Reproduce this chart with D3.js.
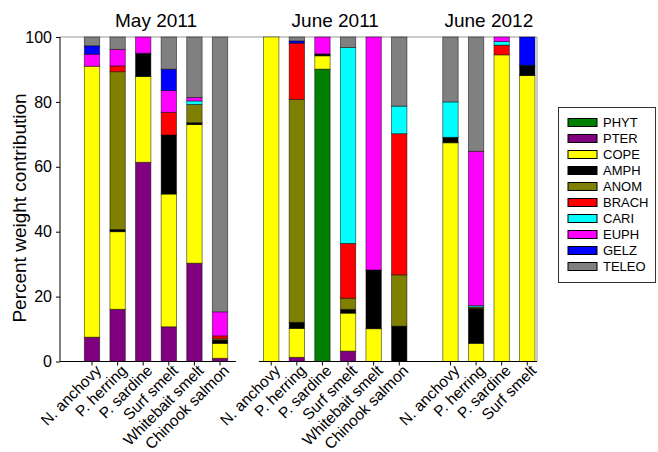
<!DOCTYPE html>
<html lang="en">
<head>
  <meta charset="UTF-8">
  <title>Percent weight contribution</title>
  <style>
    body { margin: 0; background: #fff; }
    svg { font-family: "Liberation Sans", Arial, Helvetica, sans-serif; }
  </style>
  <script src="https://d3js.org/d3.v7.min.js"></script>
</head>
<body>
  <svg id="chart" width="658" height="452"></svg>
  <script>
    // bars, left to right
    const periods = ['May 2011', 'June 2011', 'June 2012'];
    const fishMay11 = ['N. anchovy', 'P. herring', 'P. sardine', 'Surf smelt', 'Whitebait smelt', 'Chinook salmon'];
    const fishJun11 = ['N. anchovy', 'P. herring', 'P. sardine', 'Surf smelt', 'Whitebait smelt', 'Chinook salmon'];
    const fishJun12 = ['N. anchovy', 'P. herring', 'P. sardine', 'Surf smelt'];

    const prey = ['PHYT', 'PTER', 'COPE', 'AMPH', 'ANOM', 'BRACH', 'CARI', 'EUPH', 'GELZ', 'TELEO'];
    const preyColors = ['#008000', '#800080', '#ffff00', '#000000', '#808000', '#ff0000', '#00ffff', '#ff00ff', '#0000ff', '#808080'];

    // percent per bar: May 2011 (6), June 2011 (6), June 2012 (4)
    const PHYT  = [0, 0, 0, 0, 0, 0,           0, 0, 90.1, 0, 0, 0,         0, 0, 0, 0];
    const PTER  = [7.5, 16.1, 61.4, 10.7, 30.3, 1.0,  0, 1.3, 0, 3.2, 0, 0,   0, 0, 0, 0];
    const COPE  = [83.5, 23.9, 26.4, 40.9, 42.7, 4.6, 100, 8.9, 4.1, 11.7, 10.1, 0, 67.4, 5.6, 94.5, 88.1];
    const AMPH  = [0, 0.7, 7.2, 18.2, 0.6, 1.0,  0, 1.9, 0.6, 1.2, 18.1, 10.9, 1.7, 10.8, 0, 3.2];
    const ANOM  = [0, 48.6, 0, 0, 5.6, 0.4,      0, 68.7, 0, 3.4, 0, 15.8,    0, 0.4, 0, 0];
    const BRACH = [0, 1.8, 0, 7.0, 0, 0.9,       0, 17.3, 0, 16.9, 0, 43.5,   0, 0, 3.0, 0];
    const CARI  = [0, 0, 0, 0, 1.1, 0,           0, 0, 0, 60.4, 0, 8.5,       10.9, 0.4, 1.1, 0];
    const EUPH  = [3.7, 5.1, 5.0, 6.7, 1.1, 7.4, 0, 0, 5.2, 0, 71.8, 0,       0, 47.6, 1.4, 0];
    const GELZ  = [2.6, 0, 0, 6.6, 0, 0,         0, 0.7, 0, 0, 0, 0,          0, 0, 0, 8.7];
    const TELEO = [2.7, 3.8, 0, 9.9, 18.6, 84.7, 0, 1.2, 0, 3.2, 0, 21.3,     20, 35.2, 0, 0];

    const yTicks = [0, 20, 40, 60, 80, 100];

    const seriesVals = [PHYT, PTER, COPE, AMPH, ANOM, BRACH, CARI, EUPH, GELZ, TELEO];

    // one slot per bar, an empty slot between periods
    const bars = [];
    [fishMay11, fishJun11, fishJun12].forEach((list, g) => {
      const start = [1, 8, 15][g];
      list.forEach((name, i) => bars.push({ name: name, pos: start + i, group: g }));
    });
    bars.forEach((b, i) => {
      prey.forEach((p, k) => { b[p] = seriesVals[k][i]; });
    });

    const svg = d3.select('#chart');
    const plotL = 60, plotR = 537, plotT = 37, plotB = 361.5;

    const x = d3.scaleLinear().domain([-0.25, 18.38]).range([plotL, plotR]);
    const y = d3.scaleLinear().domain([0, 100]).range([plotB, plotT]);
    const color = d3.scaleOrdinal().domain(prey).range(preyColors);
    const barW = x(0.6) - x(0);

    const stacked = d3.stack().keys(prey)(bars);

    // frame lines (top and right, light)
    svg.append('line').attr('x1', plotL).attr('x2', plotR).attr('y1', plotT).attr('y2', plotT)
      .attr('stroke', '#999').attr('stroke-width', 1);
    svg.append('line').attr('x1', plotR).attr('x2', plotR).attr('y1', plotT).attr('y2', plotB)
      .attr('stroke', '#999').attr('stroke-width', 1);

    svg.append('g')
      .selectAll('g')
      .data(stacked)
      .join('g')
      .attr('fill', d => color(d.key))
      .selectAll('rect')
      .data(d => d.filter(s => s[1] - s[0] > 0))
      .join('rect')
      .attr('x', d => x(d.data.pos) - barW / 2)
      .attr('width', barW)
      .attr('y', d => y(d[1]))
      .attr('height', d => y(d[0]) - y(d[1]))
      .attr('stroke', '#000')
      .attr('stroke-opacity', 0.6)
      .attr('stroke-width', 0.8);

    // y axis
    const yAxis = svg.append('g')
      .attr('transform', `translate(${plotL},0)`)
      .call(d3.axisLeft(y).tickValues(yTicks).tickSize(4).tickPadding(4));
    yAxis.selectAll('text').attr('font-size', 16).attr('fill', '#000');
    yAxis.select('.domain').attr('d', `M0,${plotT}V${plotB}`);

    // x axis: ticks under every bar, baseline in two pieces
    const xg = svg.append('g').attr('transform', `translate(0,${plotB})`);
    xg.append('line').attr('x1', x(-0.25)).attr('x2', x(6.62)).attr('stroke', '#000');
    xg.append('line').attr('x1', x(7.52)).attr('x2', x(18.38)).attr('stroke', '#000');
    xg.selectAll('.tick')
      .data(bars)
      .join('line')
      .attr('class', 'tick')
      .attr('x1', d => x(d.pos)).attr('x2', d => x(d.pos))
      .attr('y1', 0).attr('y2', 4)
      .attr('stroke', '#000');
    xg.selectAll('.lab')
      .data(bars)
      .join('text')
      .attr('class', 'lab')
      .attr('transform', d => `translate(${x(d.pos) + 3},3) rotate(-45)`)
      .attr('text-anchor', 'end')
      .attr('dy', '0.65em')
      .attr('font-size', 15.5)
      .text(d => d.name);

    // period titles
    svg.selectAll('.period')
      .data(periods)
      .join('text')
      .attr('class', 'period')
      .attr('x', (d, g) => x([3.5, 10.5, 16.5][g]))
      .attr('y', 27)
      .attr('text-anchor', 'middle')
      .attr('font-size', 19)
      .text(d => d);

    // y label
    svg.append('text')
      .attr('transform', 'translate(26,208) rotate(-90)')
      .attr('text-anchor', 'middle')
      .attr('font-size', 19)
      .text('Percent weight contribution');

    // legend
    const lg = svg.append('g').attr('transform', 'translate(558,107)');
    lg.append('rect').attr('x', 0.5).attr('y', 0.5).attr('width', 97).attr('height', 175)
      .attr('fill', '#fff').attr('stroke', '#333');
    const item = lg.selectAll('.item')
      .data(prey)
      .join('g')
      .attr('class', 'item')
      .attr('transform', (d, i) => `translate(0,${15.5 + i * 16})`);
    item.append('rect')
      .attr('x', 10).attr('y', -4).attr('width', 29).attr('height', 8)
      .attr('fill', d => color(d))
      .attr('stroke', '#000').attr('stroke-width', 1);
    item.append('text')
      .attr('x', 45).attr('dy', '0.35em')
      .attr('font-size', 13)
      .text(d => d);
  </script>
</body>
</html>
